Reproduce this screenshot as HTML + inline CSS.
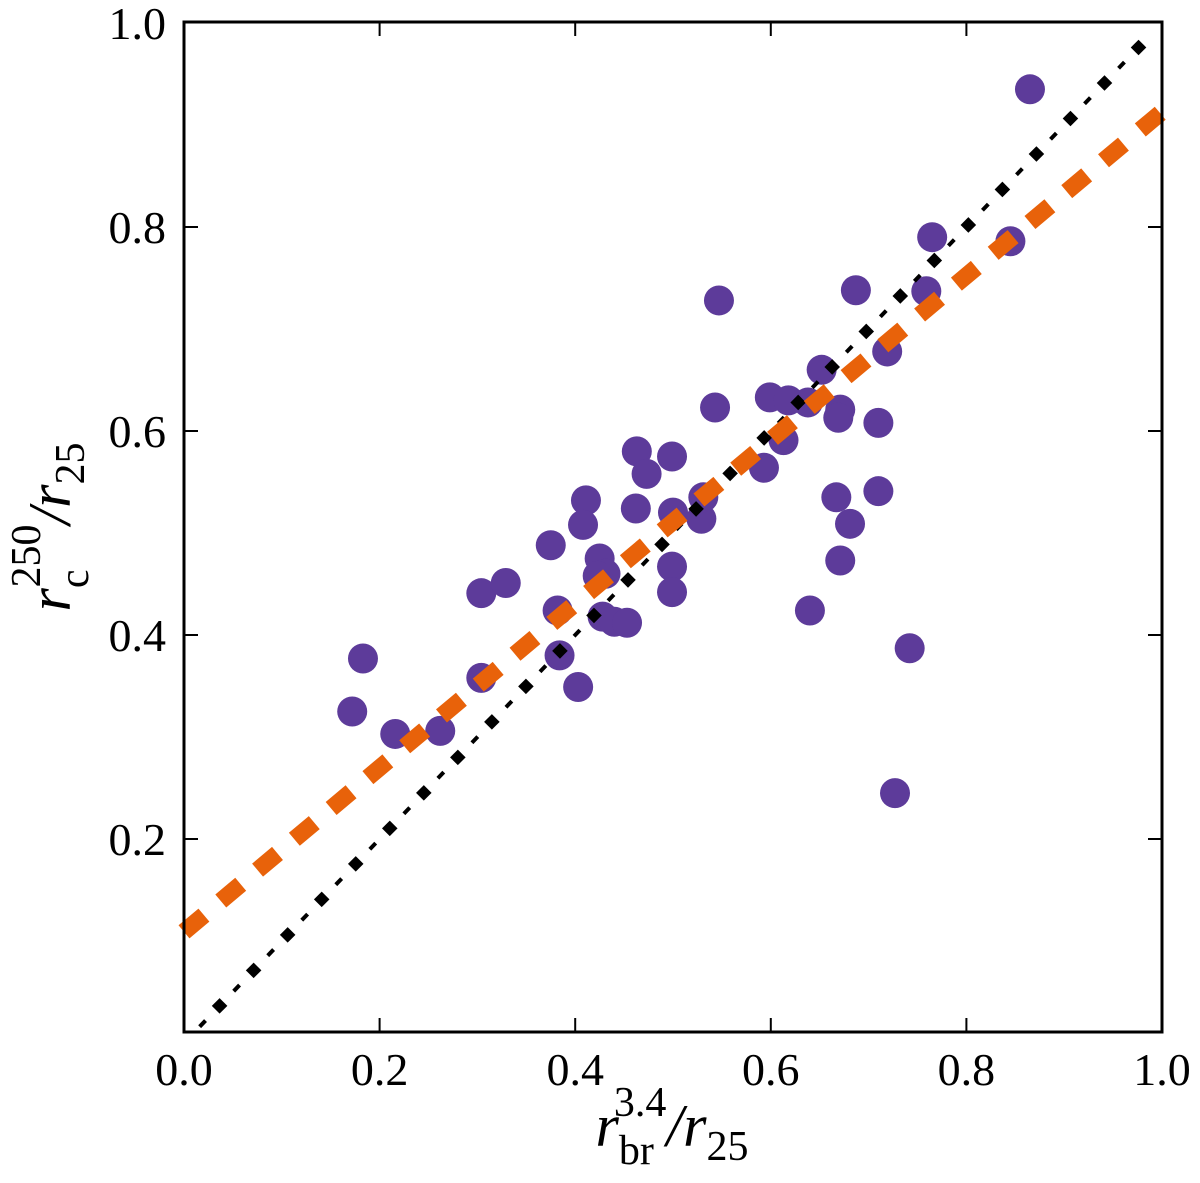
<!DOCTYPE html>
<html><head><meta charset="utf-8"><style>
html,body{margin:0;padding:0;background:#fff}
svg{display:block}
text{font-family:"Liberation Serif","DejaVu Serif",serif;fill:#000}
</style></head><body>
<svg id="chart" width="1200" height="1183" viewBox="0 0 1200 1183" xmlns="http://www.w3.org/2000/svg">
<g id="lines"></g>
<g id="points"></g>
<g id="overlay"></g>
<rect x="184" y="22" width="978" height="1010" fill="none" stroke="#000" stroke-width="3"/>
<g id="ticks"></g>
<text x="672" y="1146" text-anchor="middle" font-size="60"><tspan font-style="italic">r</tspan><tspan font-size="42" dy="18">br</tspan><tspan font-size="42" dx="-40" dy="-48">3.4</tspan><tspan dy="30" font-style="italic">/r</tspan><tspan font-size="42" dy="14">25</tspan></text>
<text transform="translate(70,527) rotate(-90)" text-anchor="middle" font-size="60"><tspan font-style="italic">r</tspan><tspan font-size="42" dy="18">c</tspan><tspan font-size="42" dx="-18" dy="-48">250</tspan><tspan dy="30" font-style="italic">/r</tspan><tspan font-size="42" dy="14">25</tspan></text>
</svg>
<script>
const xVals=[0.865,0.765,0.845,0.759,0.687,0.547,0.719,0.652,0.599,0.618,0.638,0.671,0.669,0.710,0.543,0.613,0.593,0.710,0.667,0.681,0.671,0.640,0.742,0.727,0.463,0.473,0.499,0.462,0.500,0.529,0.531,0.499,0.499,0.411,0.408,0.375,0.425,0.431,0.423,0.428,0.440,0.453,0.382,0.384,0.403,0.304,0.329,0.304,0.262,0.216,0.172,0.183];
const yVals=[0.935,0.790,0.786,0.737,0.738,0.728,0.678,0.660,0.633,0.630,0.628,0.621,0.613,0.608,0.623,0.591,0.564,0.541,0.535,0.509,0.473,0.424,0.387,0.245,0.580,0.558,0.575,0.524,0.520,0.514,0.535,0.467,0.442,0.532,0.508,0.488,0.475,0.460,0.458,0.418,0.413,0.412,0.424,0.380,0.349,0.441,0.451,0.358,0.306,0.303,0.325,0.377];
const tickVals=[0.0,0.2,0.4,0.6,0.8,1.0];
const tickLabels=["0.0","0.2","0.4","0.6","0.8","1.0"];
const fitSlope=0.804, fitIntercept=0.109;
const oneToOne=[0.02,0.976];

const NS="http://www.w3.org/2000/svg";
const X=v=>184+v*978;
const Y=v=>1043-v*1020;
function mk(tag,attrs,parent){const e=document.createElementNS(NS,tag);for(const k in attrs)e.setAttribute(k,attrs[k]);parent.appendChild(e);return e;}
const gP=document.getElementById('points'),gO=document.getElementById('overlay'),gT=document.getElementById('ticks');
xVals.forEach((x,i)=>{
  const c=mk('circle',{cx:X(x),cy:Y(yVals[i]),r:15,fill:'#5d3b9a'},gP);
  
  
});
const step=0.0348;
for(let v=oneToOne[1];v>=oneToOne[0]-1e-6;v-=step){
  const d=mk('rect',{x:X(v)-5.5,y:Y(v)-5.5,width:11,height:11,fill:'#000',transform:`rotate(45 ${X(v)} ${Y(v)})`},gO);
  
  
  const m=v-step/2;
  if(m>oneToOne[0]-0.02){
    const s=mk('line',{x1:X(m-0.003),y1:Y(m-0.003),x2:X(m+0.003),y2:Y(m+0.003),stroke:'#000','stroke-width':4},gO);
    
    
  }
}
const fl=mk('line',{x1:X(0),y1:Y(fitIntercept),x2:X(1),y2:Y(fitIntercept+fitSlope),stroke:'#e8620a','stroke-width':17,'stroke-dasharray':'26 22'},gO);


tickVals.forEach((t,i)=>{
  const tx=X(t),ty=Y(t);
  if(t>0&&t<1){
    mk('line',{x1:tx,y1:1032,x2:tx,y2:1018,stroke:'#000','stroke-width':2},gT);
    mk('line',{x1:tx,y1:22,x2:tx,y2:36,stroke:'#000','stroke-width':2},gT);
  }
  const lx=mk('text',{x:tx,y:1085,'text-anchor':'middle','font-size':46},gT);
  lx.textContent=tickLabels[i];
  
  
  if(t>0){
    if(t<1){
      mk('line',{x1:184,y1:ty,x2:198,y2:ty,stroke:'#000','stroke-width':2},gT);
      mk('line',{x1:1162,y1:ty,x2:1148,y2:ty,stroke:'#000','stroke-width':2},gT);
    }
    const ly=mk('text',{x:166,y:ty+16,'text-anchor':'end','font-size':46},gT);
    ly.textContent=tickLabels[i];
    
    
  }
});
</script>
</body></html>
